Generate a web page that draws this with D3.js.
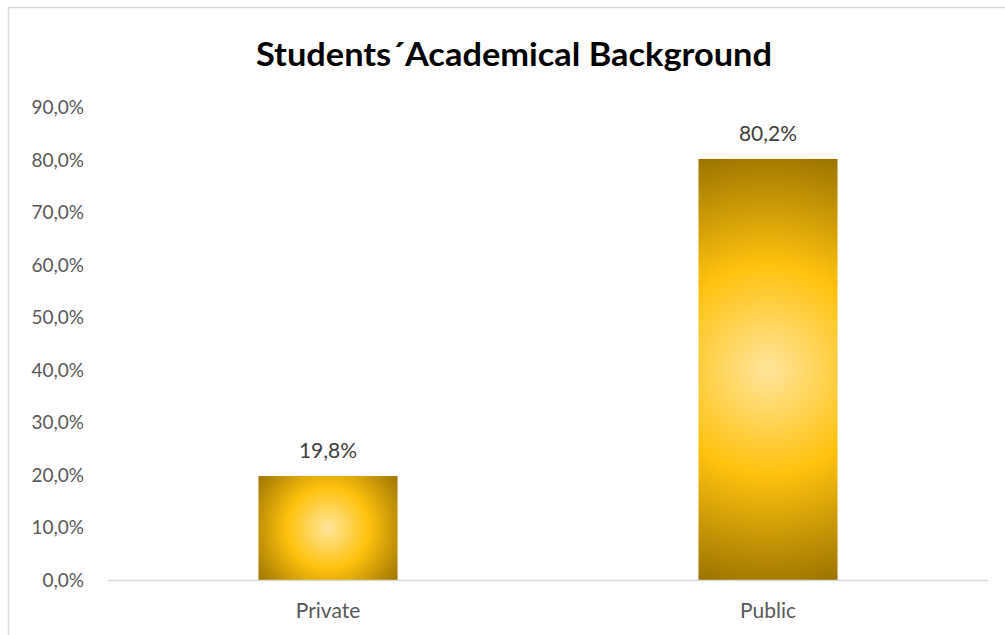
<!DOCTYPE html>
<html>
<head>
<meta charset="utf-8">
<script src="https://cdn.jsdelivr.net/npm/d3@7/dist/d3.min.js"></script>
<style>
  html, body { margin: 0; padding: 0; background: #fff; }
  svg { display: block; }
</style>
</head>
<body>
<svg id="chart" width="1005" height="635"></svg>
<script>
// Chart data
const categories = ["Private", "Public"];
const shares = [0.198, 0.802];
const tickValues = [0, 0.1, 0.2, 0.3, 0.4, 0.5, 0.6, 0.7, 0.8, 0.9];
const titleText = "Students\u00B4Academical Background";

const W = 1005, H = 635;
const svg = d3.select("#chart");
const font = "Lato, 'Open Sans', sans-serif";

// Comma decimal locale for percentages
const locale = d3.formatLocale({ decimal: ",", thousands: ".", grouping: [3], currency: ["", "€"] });
const pct = locale.format(".1%");

// Chart frame
svg.append("rect")
  .attr("x", 8.5).attr("y", 7.5)
  .attr("width", W + 20).attr("height", H + 20)
  .attr("fill", "#fff")
  .attr("stroke", "#d9d9d9").attr("stroke-width", 1.5);

// Scales
const x = d3.scaleBand()
  .domain(categories)
  .range([108, 988])
  .paddingInner(0.684)
  .paddingOuter(0.342);

const y = d3.scaleLinear()
  .domain([0, 0.9])
  .range([580, 107.5]);

// Title
svg.append("text")
  .attr("x", 514).attr("y", 66)
  .attr("text-anchor", "middle")
  .attr("font-family", font)
  .attr("font-weight", "bold")
  .attr("font-size", 32)
  .attr("fill", "#000")
  .attr("textLength", 516)
  .attr("lengthAdjust", "spacingAndGlyphs")
  .text(titleText);

// Y axis labels (no axis line, no tick marks)
const yAxis = svg.append("g")
  .attr("transform", "translate(84,0)")
  .call(d3.axisLeft(y).tickValues(tickValues).tickFormat(pct).tickSize(0).tickPadding(0));
yAxis.select(".domain").remove();
yAxis.selectAll("text")
  .attr("font-family", font)
  .attr("font-size", 19)
  .attr("fill", "#595959");

// Gradients, one per bar, centred on the bar and reaching its corners
const defs = svg.append("defs");
categories.forEach((c, i) => {
  const bx = x(c), bw = x.bandwidth();
  const top = y(shares[i]), bottom = y(0);
  const cx = bx + bw / 2, cy = (top + bottom) / 2;
  const r = Math.hypot(bw / 2, (bottom - top) / 2);
  const g = defs.append("radialGradient")
    .attr("id", "gold" + i)
    .attr("gradientUnits", "userSpaceOnUse")
    .attr("cx", cx).attr("cy", cy).attr("r", r)
    .attr("fx", cx).attr("fy", cy);
  g.append("stop").attr("offset", "0").attr("stop-color", "#ffe59c");
  g.append("stop").attr("offset", "0.47").attr("stop-color", "#ffc20e");
  g.append("stop").attr("offset", "1").attr("stop-color", "#9a7300");
});

// Bars
svg.append("g").selectAll("rect")
  .data(categories)
  .join("rect")
  .attr("x", d => x(d))
  .attr("width", x.bandwidth())
  .attr("y", (d, i) => y(shares[i]))
  .attr("height", (d, i) => y(0) - y(shares[i]))
  .attr("fill", (d, i) => `url(#gold${i})`);

// Baseline / category axis
const xAxis = svg.append("g")
  .attr("transform", `translate(0,${y(0)})`)
  .call(d3.axisBottom(x).tickSize(0).tickPadding(0));
xAxis.select(".domain").attr("stroke", "#d9d9d9").attr("stroke-width", 1.5)
  .attr("d", "M108,0.5H988");
xAxis.selectAll("text")
  .attr("font-family", font)
  .attr("font-size", 21)
  .attr("fill", "#595959")
  .attr("dy", null)
  .attr("y", 38);

// Value labels
svg.append("g").selectAll("text")
  .data(categories)
  .join("text")
  .attr("x", d => x(d) + x.bandwidth() / 2)
  .attr("y", (d, i) => y(shares[i]) - 18)
  .attr("text-anchor", "middle")
  .attr("font-family", font)
  .attr("font-size", 21)
  .attr("fill", "#404040")
  .text((d, i) => pct(shares[i]));
</script>
</body>
</html>
